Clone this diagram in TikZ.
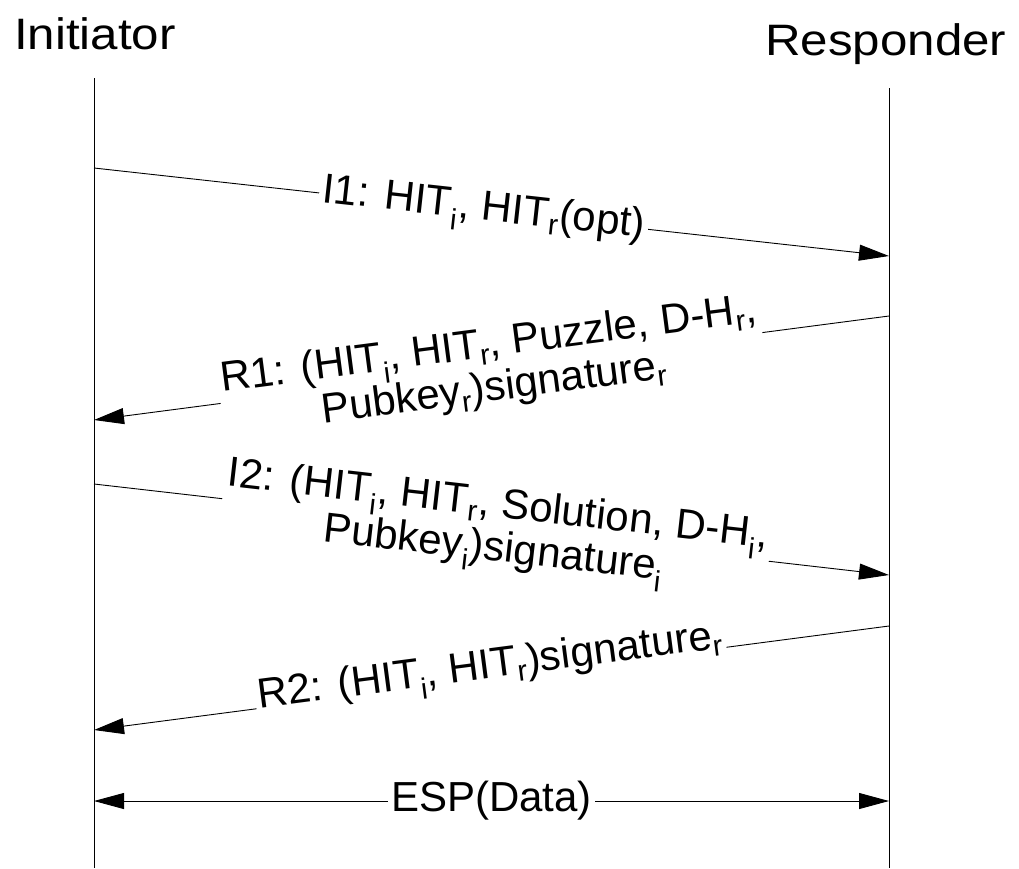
\documentclass[tikz,border=0pt]{standalone}
\usepackage{fontspec}
\setmainfont{Liberation Sans}
\usetikzlibrary{arrows.meta}
\begin{document}
\begin{tikzpicture}[x=1pt,y=-1pt,
  msg/.style={line width=0.9pt,-{Triangle[length=30pt,width=16pt]}},
  both/.style={line width=0.9pt,{Triangle[length=30pt,width=16pt]}-{Triangle[length=30pt,width=16pt]}},
  lbl/.style={sloped,fill=white,inner sep=3pt,align=center,
    font=\fontsize{42}{44}\selectfont},
  party/.style={font=\fontsize{44}{50}\selectfont,inner sep=0pt,anchor=base west},
  life/.style={line width=0.9pt}]
\useasboundingbox (0,0) rectangle (1019,868);

% participants
\node[party] (ini) at (14,49) {\scalebox{1.12}[1]{Initiator}};
\node[party] (res) at (765,55) {\scalebox{1.12}[1]{Responder}};

% lifelines
\coordinate (itop) at (94,78);
\coordinate (ibot) at (94,868);
\coordinate (rtop) at (889,88);
\coordinate (rbot) at (889,868);
\draw[life] (itop) -- (ibot);
\draw[life] (rtop) -- (rbot);

% message end points
\coordinate (a1) at (94,168);  \coordinate (b1) at (889,256);
\coordinate (b2) at (889,316); \coordinate (a2) at (94,420);
\coordinate (a3) at (94,484);  \coordinate (b3) at (889,575);
\coordinate (b4) at (889,626); \coordinate (a4) at (94,730);
\coordinate (a5) at (94,801);  \coordinate (b5) at (889,801);

% messages
\draw[msg] (a1) -- node[lbl,pos=0.49,anchor=center]
  {I1: HIT\textsubscript{i}, HIT\textsubscript{r}(opt)} (b1);
\draw[msg] (b2) -- node[lbl,pos=0.5,anchor=center]
  {R1: (HIT\textsubscript{i}, HIT\textsubscript{r}, Puzzle, D-H\textsubscript{r},\\
   Pubkey\textsubscript{r})signature\textsubscript{r}} (a2);
\draw[msg] (a3) -- node[lbl,pos=0.505,anchor=center]
  {I2: (HIT\textsubscript{i}, HIT\textsubscript{r}, Solution, D-H\textsubscript{i},\\
   Pubkey\textsubscript{i})signature\textsubscript{i}} (b3);
\draw[msg] (b4) -- node[lbl,pos=0.5,anchor=base]
  {R2: (HIT\textsubscript{i}, HIT\textsubscript{r})signature\textsubscript{r}} (a4);
\draw[both] (a5) -- node[lbl,anchor=center] {ESP(Data)} (b5);
\end{tikzpicture}
\end{document}
